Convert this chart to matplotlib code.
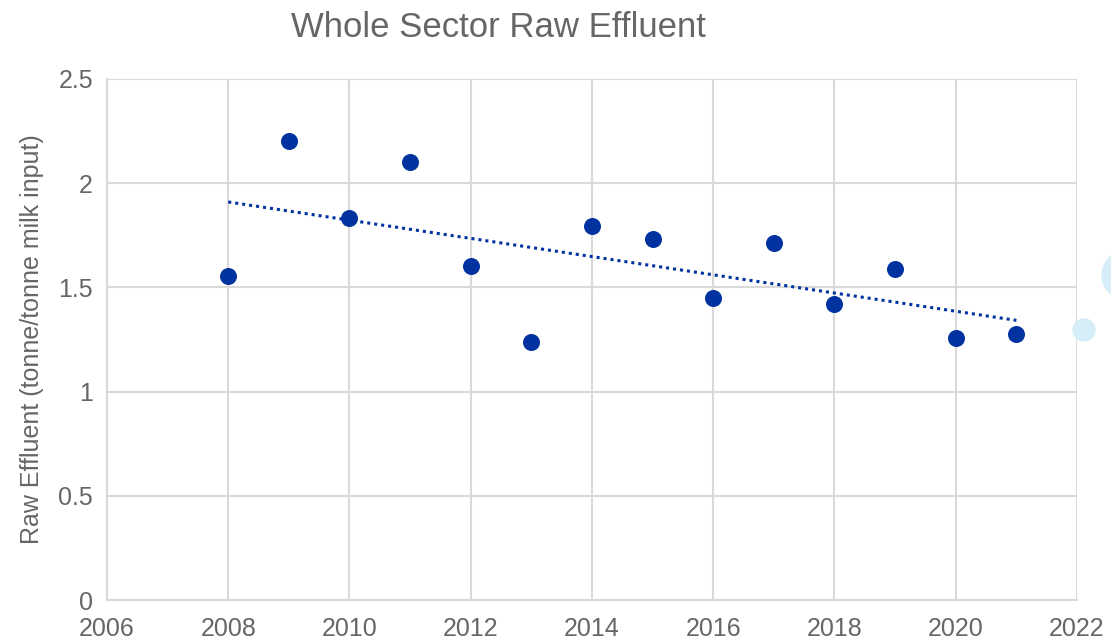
"""
Whole Sector Raw Effluent - nuage de points avec courbe de tendance linéaire.
"""

import matplotlib
matplotlib.use("Agg")
import matplotlib.pyplot as plt
from matplotlib.patches import Ellipse
import numpy as np

# Données
years = [2008, 2009, 2010, 2011, 2012, 2013, 2014, 2015, 2016, 2017, 2018, 2019, 2020, 2021]
effluent = [1.555, 2.20, 1.835, 2.10, 1.605, 1.238, 1.795, 1.732, 1.449, 1.713, 1.42, 1.587, 1.257, 1.276]
x_ticks = [2006, 2008, 2010, 2012, 2014, 2016, 2018, 2020, 2022]
y_ticks = [0, 0.5, 1, 1.5, 2, 2.5]

TEXT = "#666666"
GRID = "#d9d9d9"
BLUE = "#0033a0"

plt.rcParams["font.family"] = ["Liberation Sans", "DejaVu Sans"]

fig = plt.figure(figsize=(11.11, 6.42), dpi=100)
ax = fig.add_axes([0.0963, 0.0654, 0.8731, 0.8116])

ax.scatter(years, effluent, s=150, color=BLUE, zorder=3, linewidths=0)

# Tendance linéaire (moindres carrés)
coef = np.polyfit(years, effluent, 1)
xt = np.array([years[0], years[-1]])
ax.plot(xt, np.polyval(coef, xt), color=BLUE, linestyle=(0, (1, 1.3)), linewidth=2.2, zorder=2)

ax.set_xlim(2006, 2022)
ax.set_ylim(0, 2.5)
ax.set_xticks(x_ticks)
ax.set_yticks(y_ticks)
ax.set_yticklabels(["0", "0.5", "1", "1.5", "2", "2.5"])
ax.tick_params(length=0, labelsize=18, colors=TEXT, pad=10)
ax.tick_params(axis="x", pad=12)
ax.grid(True, color=GRID, linewidth=1.5)
ax.set_axisbelow(True)
for side in ["top", "right"]:
    ax.spines[side].set_visible(False)
for side in ["left", "bottom"]:
    ax.spines[side].set_color(GRID)
    ax.spines[side].set_linewidth(1.5)

ax.set_ylabel("Raw Effluent (tonne/tonne milk input)", fontsize=18, color=TEXT, labelpad=10)
fig.text(0.449, 0.957, "Whole Sector Raw Effluent", fontsize=25, color=TEXT, ha="center", va="center")

# Cercles décoratifs sur le bord droit
W, H = 1111, 642
for cx, cy, r in [(1084, 330, 11), (1126, 275, 24)]:
    fig.patches.append(Ellipse((cx / W, 1 - cy / H), 2 * r / W, 2 * r / H,
                               transform=fig.transFigure, color="#d6eef8", zorder=0))

fig.savefig("out.png", dpi=100)
